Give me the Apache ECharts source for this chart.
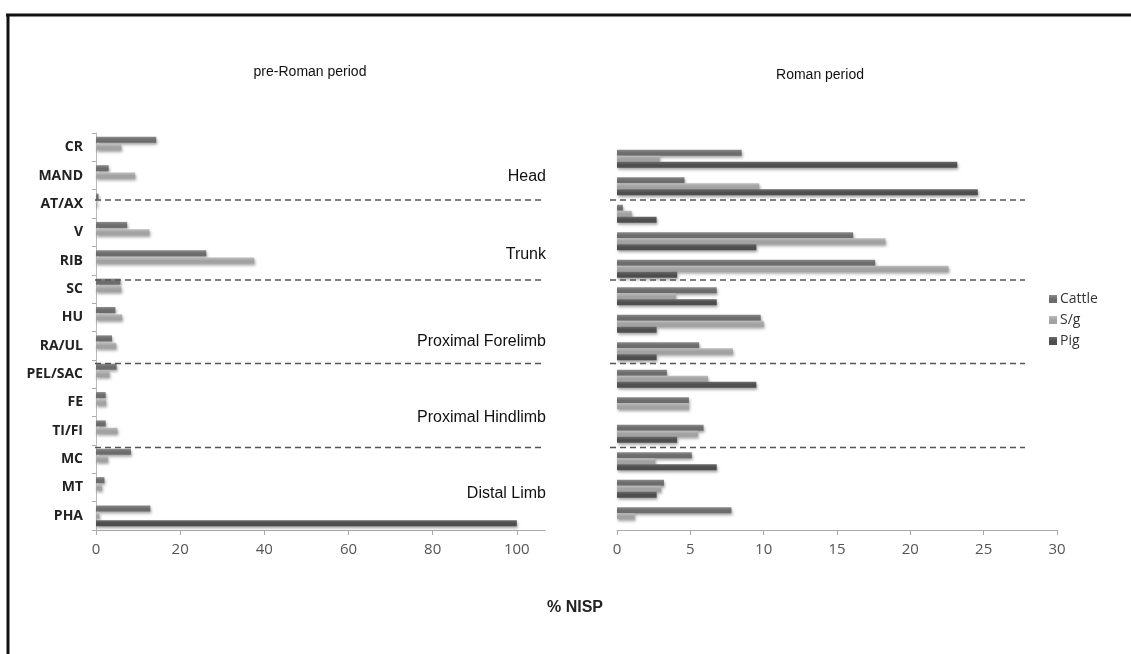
<!DOCTYPE html>
<html>
<head>
<meta charset="utf-8">
<script src="https://cdn.jsdelivr.net/npm/echarts@6/dist/echarts.min.js"></script>
<style>
html,body{margin:0;padding:0;background:#fff;}
#chart{width:1131px;height:654px;}
</style>
</head>
<body>
<div id="chart"></div>
<script>
// ---- data ----
const categories = ['CR','MAND','AT/AX','V','RIB','SC','HU','RA/UL','PEL/SAC','FE','TI/FI','MC','MT','PHA'];
const seriesNames = ['Cattle','S/g','Pig'];
const preRomanCattle = [14.3, 3.0, 0.6, 7.4, 26.2, 5.8, 4.6, 3.8, 4.9, 2.3, 2.3, 8.3, 2.0, 12.9];
const preRomanSg     = [6.0, 9.3, 0.3, 12.7, 37.6, 6.0, 6.2, 4.8, 3.2, 2.4, 5.1, 2.8, 1.4, 0.8];
const preRomanPig    = [0, 0, 0, 0, 0, 0, 0, 0, 0, 0, 0, 0, 0, 100];
const romanCattle = [8.5, 4.6, 0.4, 16.1, 17.6, 6.8, 9.8, 5.6, 3.4, 4.9, 5.9, 5.1, 3.2, 7.8];
const romanSg     = [2.9, 9.7, 1.0, 18.3, 22.6, 4.0, 10.0, 7.9, 6.2, 4.9, 5.5, 2.6, 3.0, 1.2];
const romanPig    = [23.2, 24.6, 2.7, 9.5, 4.1, 6.8, 2.7, 2.7, 9.5, 0, 4.1, 6.8, 2.7, 0];
const leftTicks = [0, 20, 40, 60, 80, 100];
const rightTicks = [0, 5, 10, 15, 20, 25, 30];
const groupLabels = ['Head','Trunk','Proximal Forelimb','Proximal Hindlimb','Distal Limb'];
const titles = ['pre-Roman period','Roman period'];
const axisTitle = '% NISP';

// ---- styling ----
const baseColors = ['#6c6c6c', '#a2a2a2', '#4e4e4e'];
const lightColors = ['#8a8a8a', '#bdbdbd', '#6a6a6a'];
function barStyle(i){
  return {
    color: new echarts.graphic.LinearGradient(0,0,0,1,[
      {offset:0,color:lightColors[i]},{offset:0.5,color:baseColors[i]},{offset:1,color:baseColors[i]}
    ]),
    shadowColor:'rgba(0,0,0,0.35)', shadowBlur:3, shadowOffsetY:2, shadowOffsetX:1
  };
}
const chart = echarts.init(document.getElementById('chart'), null, {renderer:'canvas'});
const leftData = [preRomanCattle, preRomanSg, preRomanPig];
const rightData = [romanCattle, romanSg, romanPig];
const series = [];
seriesNames.forEach((n,i)=>{
  series.push({name:n,type:'bar',xAxisIndex:0,yAxisIndex:0,data:leftData[i],barWidth:6,barGap:'22%',
    itemStyle:barStyle(i),emphasis:{disabled:true}});
});
seriesNames.forEach((n,i)=>{
  series.push({name:n,type:'bar',xAxisIndex:1,yAxisIndex:1,data:rightData[i],barWidth:6,barGap:'0%',
    itemStyle:barStyle(i),emphasis:{disabled:true}});
});
const labelFont = {fontFamily:'Open Sans', fontSize:15, color:'#555'};
function dashedLine(x1,x2,y){
  return {type:'line',shape:{x1:x1,y1:y,x2:x2,y2:y},style:{stroke:'#555',lineWidth:1.5,lineDash:[6,4]},z:10};
}
const dashYs = [200, 280, 363.5, 447.5];
const groupYs = [177, 255, 342, 418, 494];
const graphics = [
  {type:'line',shape:{x1:6,y1:15,x2:1131,y2:15},style:{stroke:'#111',lineWidth:3}},
  {type:'line',shape:{x1:8,y1:14,x2:8,y2:654},style:{stroke:'#111',lineWidth:3}},
  {type:'text',x:310,y:72,style:{text:titles[0],font:'14px "Liberation Sans", Arial',fill:'#111',align:'center',verticalAlign:'middle'}},
  {type:'text',x:820,y:75,style:{text:titles[1],font:'14px "Liberation Sans", Arial',fill:'#111',align:'center',verticalAlign:'middle'}},
  {type:'text',x:575,y:608,style:{text:axisTitle,font:'bold 16px "Liberation Sans", Arial',fill:'#222',align:'center',verticalAlign:'middle'}}
];
dashYs.forEach(y=>{ graphics.push(dashedLine(95,545,y)); graphics.push(dashedLine(610,1025,y)); });
groupLabels.forEach((t,i)=>{
  graphics.push({type:'text',x:546,y:groupYs[i],style:{text:t,font:'16px "Liberation Sans", Arial',fill:'#111',align:'right',verticalAlign:'middle'},z:11});
});

chart.setOption({
  animation:false,
  backgroundColor:'#fff',
  legend:{
    data:seriesNames, orient:'vertical', left:1044, top:287, itemWidth:8, itemHeight:8, itemGap:7,
    icon:'rect', textStyle:{fontFamily:'Open Sans', fontSize:14, color:'#333', padding:[0,0,0,-2]}
  },
  grid:[
    {left:96, width:449, top:133, bottom:124},
    {left:617, right:74, top:145, bottom:124}
  ],
  xAxis:[
    {type:'value', gridIndex:0, min:0, max:106.7, interval:20,
     splitLine:{show:false}, axisLine:{show:true,lineStyle:{color:'#aaa'}},
     axisTick:{show:true,length:5,lineStyle:{color:'#aaa'},customValues:leftTicks},
     axisLabel:Object.assign({margin:12,customValues:leftTicks,formatter:v=>(leftTicks.indexOf(v)>=0?String(v):'')},labelFont)},
    {type:'value', gridIndex:1, min:0, max:30, interval:5,
     splitLine:{show:false}, axisLine:{show:true,lineStyle:{color:'#aaa'}},
     axisTick:{show:true,length:5,lineStyle:{color:'#aaa'}},
     axisLabel:Object.assign({margin:12,formatter:v=>(rightTicks.indexOf(v)>=0?String(v):'')},labelFont)}
  ],
  yAxis:[
    {type:'category', gridIndex:0, data:categories, inverse:true,
     axisLine:{show:true,lineStyle:{color:'#bbb'}}, axisTick:{show:true,length:4,lineStyle:{color:'#aaa'}},
     axisLabel:{fontFamily:'Open Sans',fontWeight:'bold',fontSize:14,color:'#222',margin:13}},
    {type:'category', gridIndex:1, data:categories, inverse:true,
     axisLine:{show:false}, axisTick:{show:false}, axisLabel:{show:false}}
  ],
  series:series,
  graphic:graphics
});
</script>
</body>
</html>
